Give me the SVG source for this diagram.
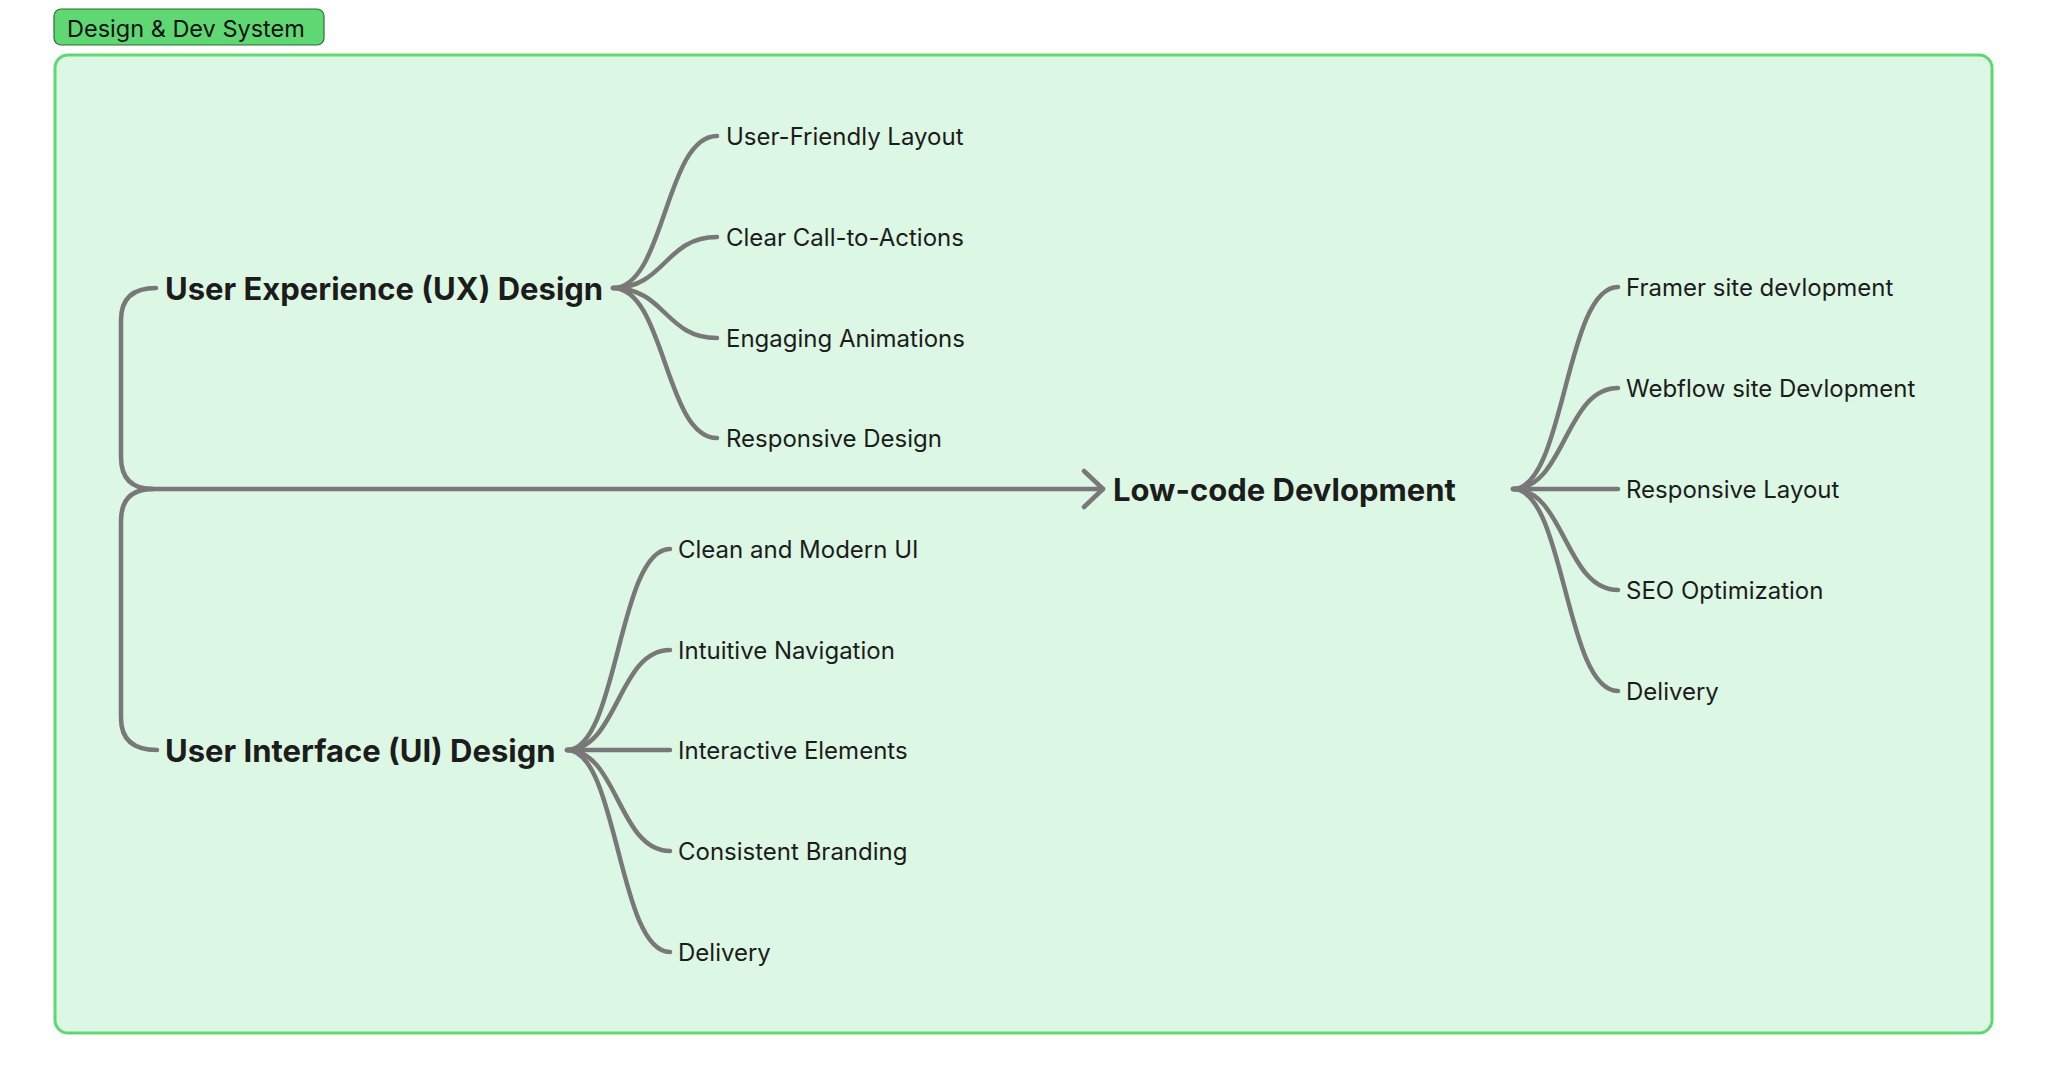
<svg xmlns="http://www.w3.org/2000/svg" width="2048" height="1089" viewBox="0 0 2048 1089">
<style>
.lbl{font-family:Inter,"Noto Sans","Liberation Sans",sans-serif;font-size:24px;fill:#1c1c1c}
.main{font-family:Inter,"Noto Sans","Liberation Sans",sans-serif;font-size:31px;font-weight:700;fill:#1c1c1c}
.ttl{font-family:Inter,"Noto Sans","Liberation Sans",sans-serif;font-size:23.5px;fill:#111}
.c{fill:none;stroke:#787878;stroke-width:4.5;stroke-linecap:round;stroke-linejoin:round}
</style>
<rect width="2048" height="1089" fill="#ffffff"/>
<g id="container">
<rect x="55" y="55" width="1937" height="978" rx="13" fill="#dcf7e3" stroke="#5fd874" stroke-width="3"/>
</g>
<g id="title">
<rect x="54" y="9" width="270" height="36" rx="7" fill="#5fd874" stroke="#2f6b3a" stroke-width="1.2"/>
<text class="ttl" x="67" y="37">Design &amp; Dev System</text>
</g>
<g id="connectors">
<path class="c" d="M156,288 Q121,288 121,320 V457 Q121,489 153,489"/>
<path class="c" d="M153,489 Q121,489 121,521 V718 Q121,750 157,750"/>
<path class="c" d="M140,489 H1103"/>
<path class="c" d="M1084,471 L1103,489 L1084,507"/>
<path class="c" d="M613,288 C665,288 665,136 717,136"/>
<path class="c" d="M613,288 C665,288 665,237 717,237"/>
<path class="c" d="M613,288 C665,288 665,338 717,338"/>
<path class="c" d="M613,288 C665,288 665,438 717,438"/>
<path class="c" d="M567,750 C618,750 618,549 670,549"/>
<path class="c" d="M567,750 C618,750 618,650 670,650"/>
<path class="c" d="M567,750 H670"/>
<path class="c" d="M567,750 C618,750 618,851 670,851"/>
<path class="c" d="M567,750 C618,750 618,952 670,952"/>
<path class="c" d="M1513,489 C1565,489 1565,287 1618,287"/>
<path class="c" d="M1513,489 C1565,489 1565,388 1618,388"/>
<path class="c" d="M1513,489 H1618"/>
<path class="c" d="M1513,489 C1565,489 1565,590 1618,590"/>
<path class="c" d="M1513,489 C1565,489 1565,691 1618,691"/>
</g>
<g id="ux"><text class="main" x="165" y="300">User Experience (UX) Design</text></g>
<g id="ui"><text class="main" x="165" y="762">User Interface (UI) Design</text></g>
<g id="lowcode"><text class="main" x="1113" y="501">Low-code Devlopment</text></g>
<g id="ux1"><text class="lbl" x="726" y="145">User-Friendly Layout</text></g>
<g id="ux2"><text class="lbl" x="726" y="246">Clear Call-to-Actions</text></g>
<g id="ux3"><text class="lbl" x="726" y="347">Engaging Animations</text></g>
<g id="ux4"><text class="lbl" x="726" y="447">Responsive Design</text></g>
<g id="ui1"><text class="lbl" x="678" y="558">Clean and Modern UI</text></g>
<g id="ui2"><text class="lbl" x="678" y="659">Intuitive Navigation</text></g>
<g id="ui3"><text class="lbl" x="678" y="759">Interactive Elements</text></g>
<g id="ui4"><text class="lbl" x="678" y="860">Consistent Branding</text></g>
<g id="ui5"><text class="lbl" x="678" y="961">Delivery</text></g>
<g id="lc1"><text class="lbl" x="1626" y="296">Framer site devlopment</text></g>
<g id="lc2"><text class="lbl" x="1626" y="397">Webflow site Devlopment</text></g>
<g id="lc3"><text class="lbl" x="1626" y="498">Responsive Layout</text></g>
<g id="lc4"><text class="lbl" x="1626" y="599">SEO Optimization</text></g>
<g id="lc5"><text class="lbl" x="1626" y="700">Delivery</text></g>
</svg>
